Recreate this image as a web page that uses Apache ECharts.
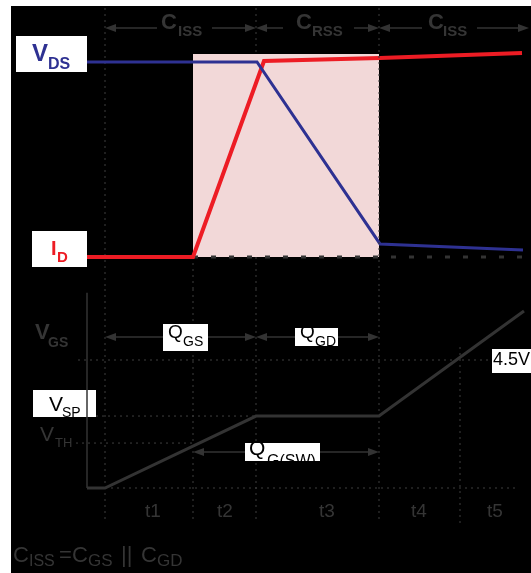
<!DOCTYPE html>
<html><head><meta charset="utf-8">
<script src="https://cdn.jsdelivr.net/npm/echarts@6/dist/echarts.min.js"></script>
<style>html,body{margin:0;padding:0;background:#fff}#c{width:531px;height:573px}</style>
</head><body><div id="c"></div>
<script>
// ---------------- data ----------------
// time axis (arbitrary units), start of phases t1..t5
const phaseTimes = [0, 4.4, 7.55, 13.7, 17.75];
const endTime = 20.9;
const phaseLabels = ['t1', 't2', 't3', 't4', 't5'];
// upper panel, normalised levels (1 = off-state V_DS / full I_D)
const vdsTime = [-0.9, 7.6, 13.75, 20.9];
const vdsLevel = [1.0, 1.0, 0.067, 0.036];
const idTime = [-0.9, 4.4, 7.95, 13.75, 20.85];
const idLevel = [0, 0, 1.005, 1.02, 1.046];
const shadeTop = 1.041;
// lower panel, gate voltage (V)
const vgsTime = [-0.9, 0, 7.55, 13.7, 20.95];
const vgsLevel = [0, 0, 2.53, 2.53, 6.22];
const vgsAxisTop = 6.86;
const vth = 1.58, vsp = 2.53, vdrive = 4.5;
const driveLabel = '4.5V';

// ---------------- layout ----------------
const X_LEFT = 11, W = 531, H = 573;
const X0_PX = 105, PX_PER_T = 20;
const U_TOP = 6, U_BOT = 289, U_ZERO = 257, U_PX = 195;
const L_TOP = 289, L_BOT = 573, L_ZERO = 488, L_PX = 128 / 4.5;
const px2t = p => (p - X0_PX) / PX_PER_T;
const py2u = p => (U_ZERO - p) / U_PX;
const py2v = p => (L_ZERO - p) / L_PX;
const xMin = px2t(X_LEFT), xMax = px2t(W);
const yMinU = py2u(U_BOT), yMaxU = py2u(U_TOP);
const yMinL = py2v(L_BOT), yMaxL = py2v(L_TOP);

const GRAY = '#353535';
const DOT = {color: '#3e3e3e', width: 1, type: [2, 4]};
const FONT = '"Liberation Sans", Arial, Helvetica, sans-serif';

function seg(g, pts, style, z) {
  return {type: 'line', xAxisIndex: g, yAxisIndex: g, data: pts, symbol: 'none',
    silent: true, animation: false, z: z || 2, lineStyle: style, emphasis: {disabled: true}};
}
const series = [];
// vertical dotted phase lines (upper panel; hidden behind the shaded region)
series.push(seg(0, [[phaseTimes[0], py2u(8)], [phaseTimes[0], yMinU]], DOT, 2));
series.push(seg(0, [[phaseTimes[2], py2u(8)], [phaseTimes[2], shadeTop]], DOT, 2));
series.push(seg(0, [[phaseTimes[2], 0], [phaseTimes[2], yMinU]], DOT, 2));
series.push(seg(0, [[phaseTimes[3], py2u(8)], [phaseTimes[3], yMinU]], DOT, 7));
series.push(seg(0, [[phaseTimes[1], 0], [phaseTimes[1], yMinU]], DOT, 2));
// lower panel
phaseTimes.slice(0, 4).forEach(t =>
  series.push(seg(1, [[t, yMaxL], [t, py2v(523)]], DOT, 2)));
series.push(seg(1, [[phaseTimes[4], py2v(347)], [phaseTimes[4], py2v(523)]], DOT, 2));
// horizontal dotted levels
series.push(seg(1, [[px2t(78), vdrive], [px2t(492), vdrive]], DOT, 2));
series.push(seg(1, [[px2t(96), vsp], [phaseTimes[2], vsp]], DOT, 2));
series.push(seg(1, [[px2t(76), vth], [phaseTimes[1], vth]], DOT, 2));
series.push(seg(1, [[phaseTimes[0], 0], [px2t(518), 0]], DOT, 2));
// shaded switching region
const shade = seg(0, [[phaseTimes[1], 0]], {opacity: 0}, 3);
shade.markArea = {silent: true, animation: false, itemStyle: {color: '#f2d8d8'},
  data: [[{coord: [phaseTimes[1], 0]}, {coord: [phaseTimes[3], shadeTop]}]]};
series.push(shade);
// thick dotted zero line of upper panel
series.push(seg(0, [[phaseTimes[1], 0], [xMax, 0]], {color: '#333', width: 3, type: [5, 13]}, 4));
// I_D and V_DS
series.push(seg(0, idTime.map((t, i) => [t, idLevel[i]]), {color: '#ed1c24', width: 4, join: 'miter'}, 5));
series.push(seg(0, vdsTime.map((t, i) => [t, vdsLevel[i]]), {color: '#2e3192', width: 3, join: 'miter'}, 6));
// V_GS axis and trace
series.push(seg(1, [[vgsTime[0], 0], [vgsTime[0], vgsAxisTop]], {color: '#333', width: 1.5}, 5));
series.push(seg(1, vgsTime.map((t, i) => [t, vgsLevel[i]]), {color: '#333', width: 3, join: 'miter'}, 5));
// arrows
const INS = 5.5 / PX_PER_T;
function arrows(g, pairs, y) {
  const s = seg(g, [[pairs[0][0], y], [pairs[0][1], y]], {opacity: 0}, 4);
  s.markLine = {silent: true, animation: false, symbol: ['triangle', 'triangle'], symbolSize: [8, 11],
    label: {show: false}, emphasis: {disabled: true},
    lineStyle: {color: '#333', width: 1.5, type: 'solid'},
    data: pairs.map(p => [{coord: [p[0] + INS, y]}, {coord: [p[1] - INS, y]}])};
  return s;
}
series.push(arrows(0, [[phaseTimes[0], phaseTimes[2]], [phaseTimes[2], phaseTimes[3]], [phaseTimes[3], px2t(529)]], py2u(28)));
series.push(arrows(1, [[phaseTimes[0], phaseTimes[2]], [phaseTimes[2], phaseTimes[3]]], py2v(337)));
series.push(arrows(1, [[phaseTimes[1], phaseTimes[3]]], py2v(452)));

// ---------------- text & boxes ----------------
const G = [];
G.push({type: 'rect', z: 0, silent: true, shape: {x: X_LEFT, y: 6, width: W - X_LEFT, height: H - 6}, style: {fill: '#000'}});
function rect(x1, y1, x2, y2, fill, z) {
  G.push({type: 'rect', z: z, silent: true, shape: {x: x1, y: y1, width: x2 - x1, height: y2 - y1}, style: {fill: fill}});
}
function txt(x, base, s, size, color, weight, align) {
  G.push({type: 'text', z: 20, silent: true, style: {text: s, x: x, y: base - 0.31 * size, fill: color,
    font: (weight || 'normal') + ' ' + size + 'px ' + FONT, textAlign: align || 'left',
    textVerticalAlign: 'middle', verticalAlign: 'middle'}});
}
// top capacitance labels
rect(157, 16, 212, 40, '#000', 15); rect(283, 16, 354, 40, '#000', 15); rect(422, 16, 477, 40, '#000', 15);
txt(161, 30, 'C', 22, GRAY, 'bold'); txt(178, 37, 'ISS', 15, GRAY, 'bold');
txt(296, 30, 'C', 22, GRAY, 'bold'); txt(312, 37, 'RSS', 15, GRAY, 'bold');
txt(428, 30, 'C', 22, GRAY, 'bold'); txt(443, 37, 'ISS', 15, GRAY, 'bold');
// V_DS / I_D boxes
rect(16, 36, 87, 72, '#fff', 12);
txt(32, 62, 'V', 24, '#2e3192', 'bold'); txt(48, 70, 'DS', 16, '#2e3192', 'bold');
rect(32, 231, 87, 267, '#fff', 12);
txt(51, 256, 'I', 20, '#ed1c24', 'bold'); txt(57, 263, 'D', 15, '#ed1c24', 'bold');
// V_GS labels
txt(35, 340, 'V', 22, GRAY, 'bold'); txt(48, 347, 'GS', 14, GRAY, 'bold');
rect(33, 390, 96, 417, '#fff', 1);
txt(49, 412, 'V', 21, '#000'); txt(62, 417, 'SP', 14, '#000');
txt(40, 442, 'V', 21, GRAY); txt(55, 447, 'TH', 13, GRAY);
rect(492, 349, 531, 373, '#fff', 12);
txt(493, 366, driveLabel, 18, '#000');
// charge labels
rect(163, 324, 208, 351, '#fff', 12);
txt(168, 339, 'Q', 19, '#000'); txt(183, 346, 'GS', 14, '#000');
rect(295, 328, 338, 346, '#fff', 12);
txt(300, 339, 'Q', 19, '#000'); txt(315, 346, 'GD', 14, '#000');
rect(245, 443, 320, 461, '#fff', 12);
txt(249, 456, 'Q', 21, '#000'); txt(267, 467, 'G(SW)', 16, '#000');
// phase labels
const tLabelX = [153, 225, 327, 419, 495];
phaseLabels.forEach((s, i) => txt(tLabelX[i], 518, s, 19, GRAY, 'normal', 'center'));
// formula
txt(13, 563, 'C', 22, GRAY); txt(29, 567, 'ISS', 16, GRAY);
txt(59, 563, '=', 22, GRAY);
txt(72, 563, 'C', 22, GRAY); txt(88, 567, 'GS', 17, GRAY);
txt(121, 563, '||', 22, GRAY);
txt(141, 563, 'C', 22, GRAY); txt(157, 567, 'GD', 17, GRAY);

const chart = echarts.init(document.getElementById('c'));
chart.setOption({
  animation: false,
  grid: [
    {left: X_LEFT, right: 0, top: U_TOP, height: U_BOT - U_TOP},
    {left: X_LEFT, right: 0, top: L_TOP, height: L_BOT - L_TOP}
  ],
  xAxis: [
    {gridIndex: 0, type: 'value', min: xMin, max: xMax, show: false},
    {gridIndex: 1, type: 'value', min: xMin, max: xMax, show: false}
  ],
  yAxis: [
    {gridIndex: 0, type: 'value', min: yMinU, max: yMaxU, show: false},
    {gridIndex: 1, type: 'value', min: yMinL, max: yMaxL, show: false}
  ],
  series: series,
  graphic: {elements: G}
});
</script></body></html>
